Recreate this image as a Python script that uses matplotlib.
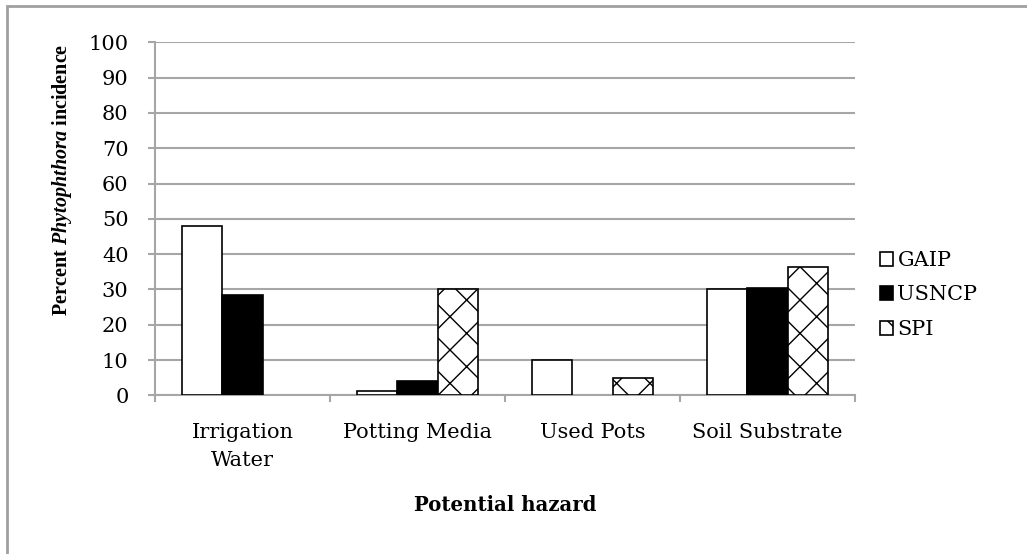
import matplotlib
matplotlib.use("Agg")
import matplotlib.pyplot as plt
import numpy as np
from matplotlib.patches import Rectangle, Patch

categories = ["Irrigation\nWater", "Potting Media", "Used Pots", "Soil Substrate"]
series_names = ["GAIP", "USNCP", "SPI"]
gaip = [48, 1.2, 10, 30]
usncp = [28.5, 4, 0, 30.4]
spi = [0, 30, 5, 36.4]
yticks = [0, 10, 20, 30, 40, 50, 60, 70, 80, 90, 100]

plt.rcParams['font.family'] = ['DejaVu Serif']
plt.rcParams['hatch.linewidth'] = 1.0
plt.rcParams['mathtext.fontset'] = 'custom'
plt.rcParams['mathtext.it'] = 'Liberation Serif:italic:bold'
plt.rcParams['mathtext.rm'] = 'Liberation Serif:bold'
plt.rcParams['mathtext.bf'] = 'Liberation Serif:bold'

FS = 15
W, H = 1027, 554
fig = plt.figure(figsize=(W / 100, H / 100), dpi=100)
fig.patches.append(Rectangle((7 / W, -0.1), 1.2, 1 - 6.5 / H + 0.1, transform=fig.transFigure,
                             fill=False, edgecolor='#a0a0a0', linewidth=2))

ax = fig.add_axes([155 / W, 1 - 395.3 / H, 700 / W, 353 / H])
x = np.arange(len(categories))
bw = 0.23
styles = [dict(facecolor='white', edgecolor='black'),
          dict(facecolor='black', edgecolor='black'),
          dict(facecolor='white', edgecolor='black', hatch='x')]
handles = []
for i, (vals, st, name) in enumerate(zip([gaip, usncp, spi], styles, series_names)):
    b = ax.bar(x + (i - 1) * bw, vals, width=bw, linewidth=1.2, label=name, zorder=3, **st)
    for p, v in zip(b.patches, vals):
        if v == 0:
            p.set_visible(False)
    handles.append(Patch(linewidth=1.2, label=name, **st))

ax.set_ylim(0, 100)
ax.set_xlim(-0.5, len(categories) - 0.5)
ax.set_yticks(yticks)
ax.set_yticklabels([str(v) for v in yticks], fontsize=FS)
ax.yaxis.grid(True, color='#a6a6a6', linewidth=1.5, zorder=0)
ax.set_axisbelow(True)
ax.set_xticks(np.arange(-0.5, len(categories), 1.0))
ax.set_xticklabels([])
ax.set_xticks(x, minor=True)
ax.set_xticklabels(categories, minor=True, fontsize=FS, linespacing=1.6)
ax.tick_params(axis='x', which='minor', length=0, pad=20)
ax.tick_params(axis='x', which='major', length=5, color='#a6a6a6', width=1.5)
ax.tick_params(axis='y', length=5, color='#a6a6a6', width=1.5, pad=14)
for s in ['top', 'right']:
    ax.spines[s].set_visible(False)
for s in ['left', 'bottom']:
    ax.spines[s].set_color('#a6a6a6')
    ax.spines[s].set_linewidth(1.5)

ax.set_xlabel("Potential hazard", fontsize=14.2, fontweight='bold')
ax.xaxis.set_label_coords(0.5, (395.3 - 505) / 353, transform=ax.transAxes)
ax.xaxis.label.set_va('center')
ax.set_ylabel(r"$\mathrm{Percent}\ \mathit{Phytophthora}\ \mathrm{incidence}$", fontsize=14.5)
ax.yaxis.set_label_coords((62 - 155) / 700, (395.3 - 180) / 353)
ax.yaxis.label.set_va('center')

fig.legend(handles=handles, labels=series_names, loc='center left',
           bbox_to_anchor=(861 / W, 1 - 295 / H), frameon=False, fontsize=FS,
           handlelength=0.65, handleheight=0.65, handletextpad=0.2, labelspacing=0.75)

fig.savefig("out.png", dpi=100)
